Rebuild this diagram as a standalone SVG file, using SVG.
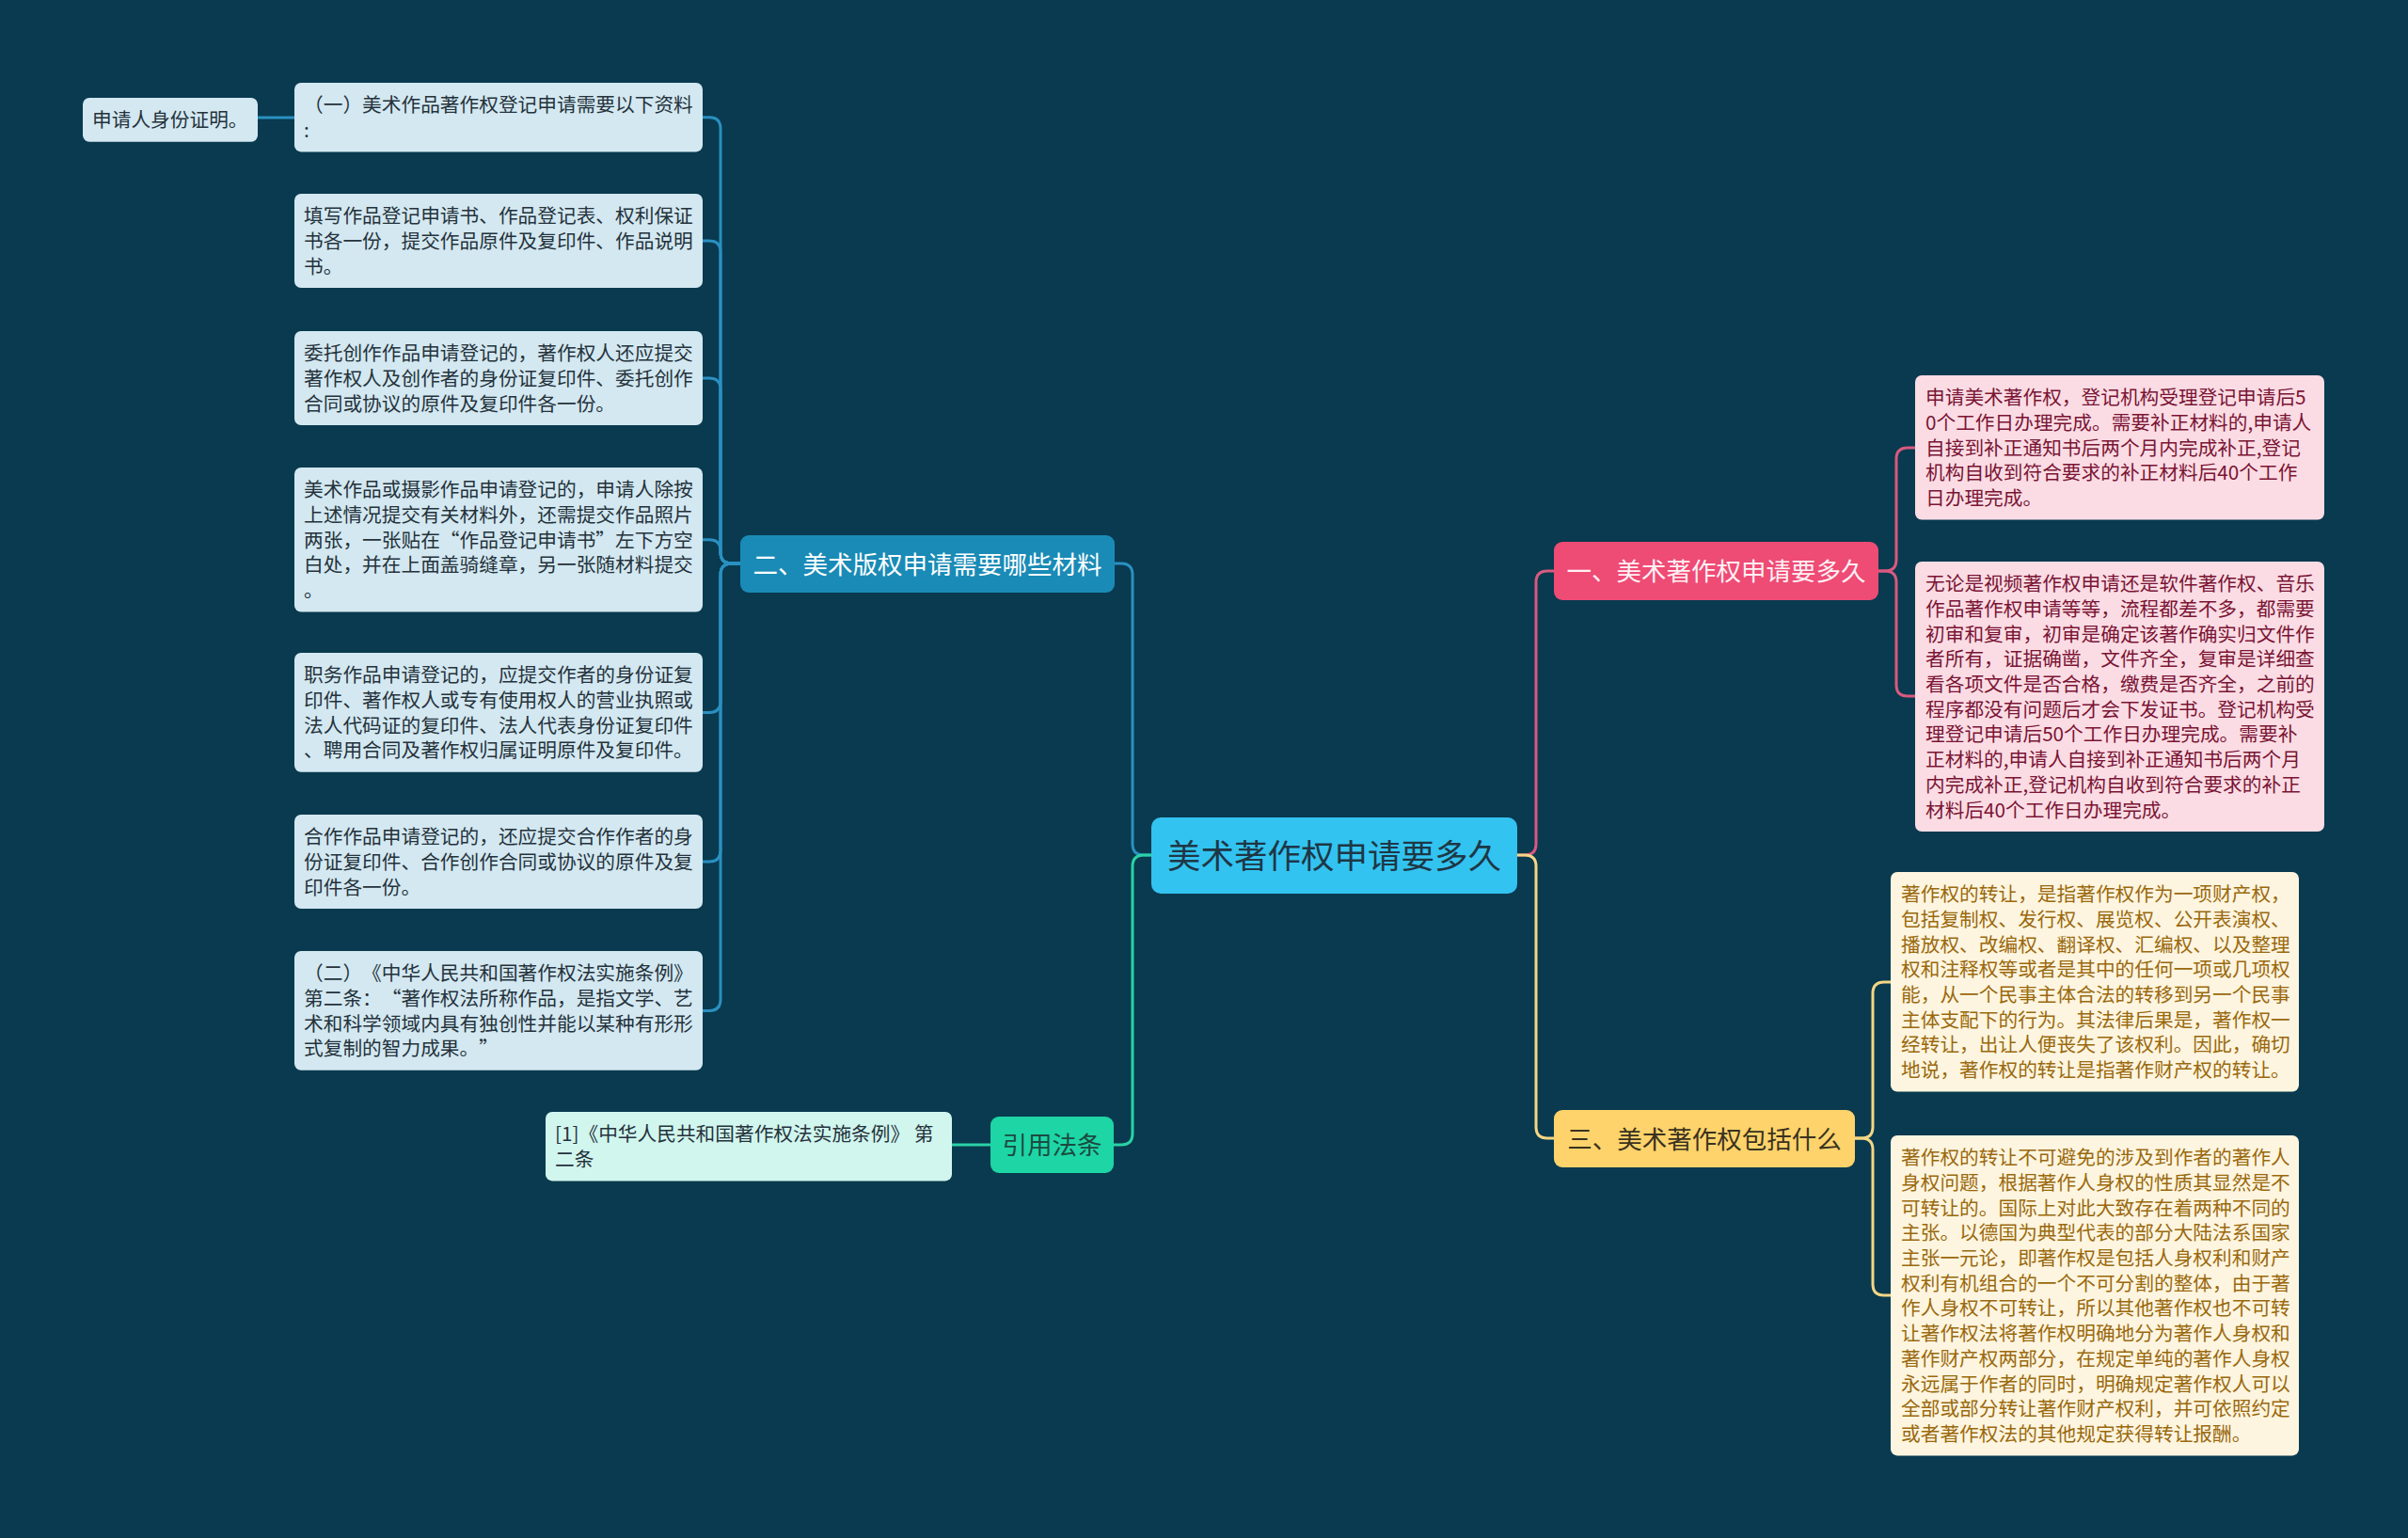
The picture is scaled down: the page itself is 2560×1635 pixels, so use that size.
<svg xmlns="http://www.w3.org/2000/svg" width="2560" height="1635" viewBox="0 0 2560 1635">
<style>
text{font-family:"Noto Sans CJK SC","Noto Sans",sans-serif;text-spacing-trim:space-all;}
.leaf{font-size:20.7px;}
.l1{font-size:26.5px;text-anchor:middle;}
.c{fill:none;stroke-width:3;stroke-linecap:round;}
.cb{stroke:#2A90C1;}
.cg{stroke:#2AD2A5;}
.cp{stroke:#D9597F;}
.cy{stroke:#F4D684;}
.bl{fill:#D3E8F1;}
.tb{fill:#25323B;}
.pk{fill:#FBDCE4;}
.tp{fill:#7A1434;}
.yl{fill:#FDF5DF;}
.ty{fill:#9A690E;}
</style>
<rect x="0" y="0" width="2560" height="1635" fill="#093A4F"/>
<g id="connectors">
<path class="c cb" d="M1224,909 H1216 Q1204,909 1204,897 V611 Q1204,599 1192,599 H1185"/>
<path class="c cg" d="M1224,909 H1216 Q1204,909 1204,921 V1205 Q1204,1217 1192,1217 H1184"/>
<path class="c cp" d="M1613,909 H1621 Q1633,909 1633,897 V619 Q1633,607 1645,607 H1652"/>
<path class="c cy" d="M1613,909 H1621 Q1633,909 1633,921 V1198 Q1633,1210 1645,1210 H1652"/>
<path class="c cb" d="M787,599 H778 Q766,599 766,587 V136.7 Q766,124.7 754,124.7 H747"/>
<path class="c cb" d="M787,599 H778 Q766,599 766,587 V268 Q766,256 754,256 H747"/>
<path class="c cb" d="M787,599 H778 Q766,599 766,587 V414 Q766,402 754,402 H747"/>
<path class="c cb" d="M787,599 H778 Q766,599 766,587 V585.7 Q766,573.7 754,573.7 H747"/>
<path class="c cb" d="M787,599 H778 Q766,599 766,611 V745.4 Q766,757.4 754,757.4 H747"/>
<path class="c cb" d="M787,599 H778 Q766,599 766,611 V904 Q766,916 754,916 H747"/>
<path class="c cb" d="M787,599 H778 Q766,599 766,611 V1062.4 Q766,1074.4 754,1074.4 H747"/>
<path class="c cb" d="M313,125 H274"/>
<path class="c cg" d="M1053,1217 H1012"/>
<path class="c cp" d="M1997,607 H2004 Q2016,607 2016,595 V488 Q2016,476 2028,476 H2036"/>
<path class="c cp" d="M1997,607 H2004 Q2016,607 2016,619 V728 Q2016,740 2028,740 H2036"/>
<path class="c cy" d="M1972,1210 H1979 Q1991,1210 1991,1198 V1056 Q1991,1044 2003,1044 H2010"/>
<path class="c cy" d="M1972,1210 H1979 Q1991,1210 1991,1222 V1365 Q1991,1377 2003,1377 H2010"/>
</g>
<g id="root">
<rect x="1224" y="869" width="389" height="81" rx="10" fill="#33C3F0"/>
<text x="1418.5" y="922.5" font-size="35.5" text-anchor="middle" fill="#1E3746">美术著作权申请要多久</text>
</g>
<g id="n2">
<rect x="787" y="569" width="398" height="61" rx="9" fill="#1A8BB6"/>
<text class="l1" x="986" y="609.5" fill="#FFFFFF">二、美术版权申请需要哪些材料</text>
</g>
<g id="nref">
<rect x="1053" y="1187" width="131" height="60" rx="9" fill="#1ED5A6"/>
<text class="l1" x="1118.5" y="1227" fill="#1C4A40">引用法条</text>
</g>
<g id="n1">
<rect x="1652" y="576" width="345" height="62" rx="9" fill="#EE4B75"/>
<text class="l1" x="1824.5" y="617" fill="#FFF0F4">一、美术著作权申请要多久</text>
</g>
<g id="n3">
<rect x="1652" y="1180" width="320" height="61" rx="9" fill="#FED36B"/>
<text class="l1" x="1812" y="1220.5" fill="#3A3220">三、美术著作权包括什么</text>
</g>
<g id="L0">
<rect class="bl" x="88" y="104" width="186" height="46.7" rx="7"/>
<text class="leaf tb" x="98" y="135.2">申请人身份证明。</text>
</g>
<g id="L1">
<rect class="bl" x="313" y="88" width="434" height="73.4" rx="7"/>
<text class="leaf tb"><tspan x="323" y="119.2">（一）美术作品著作权登记申请需要以下资料</tspan><tspan x="323" y="145.9">:</tspan></text>
</g>
<g id="L2">
<rect class="bl" x="313" y="206" width="434" height="100" rx="7"/>
<text class="leaf tb"><tspan x="323" y="237.2">填写作品登记申请书、作品登记表、权利保证</tspan><tspan x="323" y="263.9">书各一份，提交作品原件及复印件、作品说明</tspan><tspan x="323" y="290.6">书。</tspan></text>
</g>
<g id="L3">
<rect class="bl" x="313" y="352" width="434" height="100" rx="7"/>
<text class="leaf tb"><tspan x="323" y="383.2">委托创作作品申请登记的，著作权人还应提交</tspan><tspan x="323" y="409.9">著作权人及创作者的身份证复印件、委托创作</tspan><tspan x="323" y="436.6">合同或协议的原件及复印件各一份。</tspan></text>
</g>
<g id="L4">
<rect class="bl" x="313" y="497" width="434" height="153.5" rx="7"/>
<text class="leaf tb"><tspan x="323" y="528.2">美术作品或摄影作品申请登记的，申请人除按</tspan><tspan x="323" y="554.9">上述情况提交有关材料外，还需提交作品照片</tspan><tspan x="323" y="581.6">两张，一张贴在“作品登记申请书”左下方空</tspan><tspan x="323" y="608.3">白处，并在上面盖骑缝章，另一张随材料提交</tspan><tspan x="323" y="635">。</tspan></text>
</g>
<g id="L5">
<rect class="bl" x="313" y="694" width="434" height="126.8" rx="7"/>
<text class="leaf tb"><tspan x="323" y="725.2">职务作品申请登记的，应提交作者的身份证复</tspan><tspan x="323" y="751.9">印件、著作权人或专有使用权人的营业执照或</tspan><tspan x="323" y="778.6">法人代码证的复印件、法人代表身份证复印件</tspan><tspan x="323" y="805.3">、聘用合同及著作权归属证明原件及复印件。</tspan></text>
</g>
<g id="L6">
<rect class="bl" x="313" y="866" width="434" height="100" rx="7"/>
<text class="leaf tb"><tspan x="323" y="897.2">合作作品申请登记的，还应提交合作作者的身</tspan><tspan x="323" y="923.9">份证复印件、合作创作合同或协议的原件及复</tspan><tspan x="323" y="950.6">印件各一份。</tspan></text>
</g>
<g id="L7">
<rect class="bl" x="313" y="1011" width="434" height="126.8" rx="7"/>
<text class="leaf tb"><tspan x="323" y="1042.2">（二）《中华人民共和国著作权法实施条例》</tspan><tspan x="323" y="1068.9">第二条：“著作权法所称作品，是指文学、艺</tspan><tspan x="323" y="1095.6">术和科学领域内具有独创性并能以某种有形形</tspan><tspan x="323" y="1122.3">式复制的智力成果。”</tspan></text>
</g>
<g id="Lref">
<rect x="580" y="1182" width="432" height="73.4" rx="7" fill="#D1F6EE"/>
<text class="leaf tb"><tspan x="590" y="1213.2">[1]《中华人民共和国著作权法实施条例》 第</tspan><tspan x="590" y="1239.9">二条</tspan></text>
</g>
<g id="R1">
<rect class="pk" x="2036" y="399" width="435" height="153.5" rx="7"/>
<text class="leaf tp"><tspan x="2047" y="430.2">申请美术著作权，登记机构受理登记申请后5</tspan><tspan x="2047" y="456.9">0个工作日办理完成。需要补正材料的,申请人</tspan><tspan x="2047" y="483.6">自接到补正通知书后两个月内完成补正,登记</tspan><tspan x="2047" y="510.3">机构自收到符合要求的补正材料后40个工作</tspan><tspan x="2047" y="537">日办理完成。</tspan></text>
</g>
<g id="R2">
<rect class="pk" x="2036" y="597" width="435" height="287" rx="7"/>
<text class="leaf tp"><tspan x="2047" y="628.2">无论是视频著作权申请还是软件著作权、音乐</tspan><tspan x="2047" y="654.9">作品著作权申请等等，流程都差不多，都需要</tspan><tspan x="2047" y="681.6">初审和复审，初审是确定该著作确实归文件作</tspan><tspan x="2047" y="708.3">者所有，证据确凿，文件齐全，复审是详细查</tspan><tspan x="2047" y="735">看各项文件是否合格，缴费是否齐全，之前的</tspan><tspan x="2047" y="761.7">程序都没有问题后才会下发证书。登记机构受</tspan><tspan x="2047" y="788.4">理登记申请后50个工作日办理完成。需要补</tspan><tspan x="2047" y="815.1">正材料的,申请人自接到补正通知书后两个月</tspan><tspan x="2047" y="841.8">内完成补正,登记机构自收到符合要求的补正</tspan><tspan x="2047" y="868.5">材料后40个工作日办理完成。</tspan></text>
</g>
<g id="R3">
<rect class="yl" x="2010" y="927" width="434" height="233.6" rx="7"/>
<text class="leaf ty"><tspan x="2021" y="958.2">著作权的转让，是指著作权作为一项财产权，</tspan><tspan x="2021" y="984.9">包括复制权、发行权、展览权、公开表演权、</tspan><tspan x="2021" y="1011.6">播放权、改编权、翻译权、汇编权、以及整理</tspan><tspan x="2021" y="1038.3">权和注释权等或者是其中的任何一项或几项权</tspan><tspan x="2021" y="1065">能，从一个民事主体合法的转移到另一个民事</tspan><tspan x="2021" y="1091.7">主体支配下的行为。其法律后果是，著作权一</tspan><tspan x="2021" y="1118.4">经转让，出让人便丧失了该权利。因此，确切</tspan><tspan x="2021" y="1145.1">地说，著作权的转让是指著作财产权的转让。</tspan></text>
</g>
<g id="R4">
<rect class="yl" x="2010" y="1207" width="434" height="340.4" rx="7"/>
<text class="leaf ty"><tspan x="2021" y="1238.2">著作权的转让不可避免的涉及到作者的著作人</tspan><tspan x="2021" y="1264.9">身权问题，根据著作人身权的性质其显然是不</tspan><tspan x="2021" y="1291.6">可转让的。国际上对此大致存在着两种不同的</tspan><tspan x="2021" y="1318.3">主张。以德国为典型代表的部分大陆法系国家</tspan><tspan x="2021" y="1345">主张一元论，即著作权是包括人身权利和财产</tspan><tspan x="2021" y="1371.7">权利有机组合的一个不可分割的整体，由于著</tspan><tspan x="2021" y="1398.4">作人身权不可转让，所以其他著作权也不可转</tspan><tspan x="2021" y="1425.1">让著作权法将著作权明确地分为著作人身权和</tspan><tspan x="2021" y="1451.8">著作财产权两部分，在规定单纯的著作人身权</tspan><tspan x="2021" y="1478.5">永远属于作者的同时，明确规定著作权人可以</tspan><tspan x="2021" y="1505.2">全部或部分转让著作财产权利，并可依照约定</tspan><tspan x="2021" y="1531.9">或者著作权法的其他规定获得转让报酬。</tspan></text>
</g>
</svg>
